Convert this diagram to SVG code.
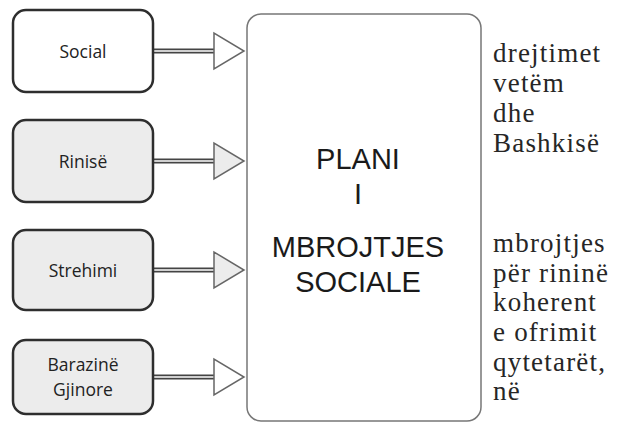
<svg xmlns="http://www.w3.org/2000/svg" width="626" height="424" viewBox="0 0 626 424">
<style>
.box{stroke:#2e2e2e;stroke-width:2.5}
.lbl{font-family:"Open Sans","Liberation Sans",sans-serif;font-size:17.5px;fill:#222;text-anchor:middle}
.big{font-family:"Liberation Sans",Arial,sans-serif;font-size:29px;fill:#1a1a1a;text-anchor:middle}
.rt{font-family:"Liberation Serif","Times New Roman",serif;font-size:27px;fill:#262626;letter-spacing:1.2px}
.dl1{stroke:#444;stroke-width:5}
.dl2{stroke:#fff;stroke-width:1.6}
.tri{stroke:#666;stroke-width:1.5;stroke-linejoin:miter}
</style>
<rect width="626" height="424" fill="#fff"/>
<g id="connectors">
<line class="dl1" x1="153" y1="51" x2="214" y2="51"/><line class="dl2" x1="153" y1="51" x2="214" y2="51"/>
<polygon class="tri" points="214,33 214,69 244,51" fill="#fff"/>
<line class="dl1" x1="153" y1="161" x2="214" y2="161"/><line class="dl2" x1="153" y1="161" x2="214" y2="161"/>
<polygon class="tri" points="214,143 214,179 244,161" fill="#ececec"/>
<line class="dl1" x1="153" y1="270" x2="214" y2="270"/><line class="dl2" x1="153" y1="270" x2="214" y2="270"/>
<polygon class="tri" points="214,252 214,288 244,270" fill="#ececec"/>
<line class="dl1" x1="153" y1="377" x2="214" y2="377"/><line class="dl2" x1="153" y1="377" x2="214" y2="377"/>
<polygon class="tri" points="214,359 214,395 244,377" fill="#fff"/>
</g>
<g id="social"><rect class="box" x="13" y="10" width="140" height="82" rx="13" fill="#fff"/><text class="lbl" x="83" y="58">Social</text></g>
<g id="rinise"><rect class="box" x="13" y="120" width="140" height="82" rx="13" fill="#ececec"/><text class="lbl" x="83" y="168">Rinisë</text></g>
<g id="strehimi"><rect class="box" x="13" y="230" width="140" height="80" rx="13" fill="#ececec"/><text class="lbl" x="83" y="277">Strehimi</text></g>
<g id="barazine"><rect class="box" x="13" y="340" width="140" height="74" rx="13" fill="#ececec"/><text class="lbl" x="83" y="371">Barazinë</text><text class="lbl" x="83" y="396">Gjinore</text></g>
<g id="plani">
<rect x="247" y="14" width="234" height="407" rx="14" fill="#fff" stroke="#777" stroke-width="1.5"/>
<text class="big" x="358" y="169">PLANI</text>
<text class="big" x="358" y="204">I</text>
<text class="big" x="358" y="257">MBROJTJES</text>
<text class="big" x="358" y="292">SOCIALE</text>
</g>
<g id="text-right">
<text class="rt" x="493" y="62">drejtimet</text>
<text class="rt" x="493" y="92">vetëm</text>
<text class="rt" x="493" y="122">dhe</text>
<text class="rt" x="493" y="152">Bashkisë</text>
<text class="rt" x="493" y="252">mbrojtjes</text>
<text class="rt" x="493" y="282">për rininë</text>
<text class="rt" x="493" y="311">koherent</text>
<text class="rt" x="493" y="341">e ofrimit</text>
<text class="rt" x="493" y="371">qytetarët,</text>
<text class="rt" x="493" y="400">në</text>
</g>
</svg>
